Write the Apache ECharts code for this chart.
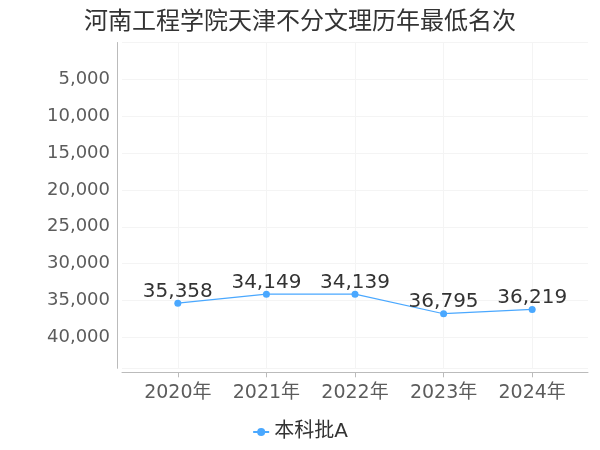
<!DOCTYPE html>
<html><head><meta charset="utf-8">
<script src="https://cdn.jsdelivr.net/npm/echarts@6/dist/echarts.min.js"></script>
<style>html,body{margin:0;padding:0;background:#fff}#c{width:600px;height:450px}</style>
</head><body><div id="c"></div>
<script>
const title = '河南工程学院天津不分文理历年最低名次';
const categories = ['2020年', '2021年', '2022年', '2023年', '2024年'];
const seriesName = '本科批A';
const values = [35358, 34149, 34139, 36795, 36219];
const yTicks = [5000, 10000, 15000, 20000, 25000, 30000, 35000, 40000];

const chart = echarts.init(document.getElementById('c'));
const font = '"DejaVu Sans","Noto Sans CJK SC",sans-serif';
chart.setOption({
  backgroundColor: '#fff',
  textStyle: { fontFamily: font },
  title: { text: title, left: 'center', top: 6,
    textStyle: { fontSize: 24, fontWeight: 'normal', color: '#333', fontFamily: font } },
  legend: { bottom: 3, left: 'center', itemWidth: 16, itemHeight: 10, itemGap: 4,
    textStyle: { fontSize: 20, color: '#333', fontFamily: font }, data: [seriesName] },
  grid: { left: 122, right: 12, top: 42.5, bottom: 81.7, containLabel: false },
  xAxis: {
    type: 'value', min: -0.63, max: 4.63, offset: 4,
    axisLine: { show: true, onZero: false, lineStyle: { color: '#bbb' } },
    axisTick: { show: true, customValues: [0,1,2,3,4], length: 5, lineStyle: { color: '#bbb' } },
    axisLabel: { customValues: [0,1,2,3,4], fontSize: 19, color: '#5c5c5c', margin: 11,
      formatter: v => categories[Math.round(v)] || '' },
    splitLine: { show: true, lineStyle: { color: '#f4f4f4' } }
  },
  yAxis: {
    type: 'value', inverse: true, min: 0, max: 44200, interval: 5000, offset: 5,
    axisLine: { show: true, onZero: false, lineStyle: { color: '#bbb' } },
    axisTick: { show: false },
    axisLabel: { fontSize: 18, color: '#5c5c5c', margin: 7, padding: [5, 0, 0, 0],
      showMinLabel: false, showMaxLabel: false,
      formatter: v => yTicks.includes(v) ? v.toLocaleString('en-US') : '' },
    splitLine: { show: true, lineStyle: { color: '#f4f4f4' } }
  },
  series: [{
    name: seriesName, type: 'line',
    data: values.map((v, i) => [i, v]),
    symbol: 'circle', symbolSize: 7,
    itemStyle: { color: '#4aa8ff' },
    lineStyle: { color: '#4aa8ff', width: 1.2 },
    label: { show: true, position: 'top', distance: -2, fontSize: 20, color: '#333',
      formatter: p => p.value[1].toLocaleString('en-US') }
  }]
});
</script></body></html>
